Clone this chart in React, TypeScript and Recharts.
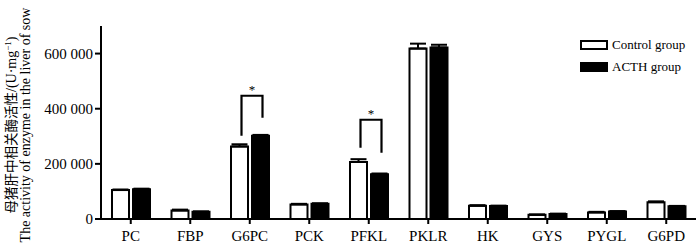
import React from 'react';
import {Bar, BarChart, ErrorBar, Rectangle, XAxis, YAxis} from 'recharts';

const categories = ['PC', 'FBP', 'G6PC', 'PCK', 'PFKL', 'PKLR', 'HK', 'GYS', 'PYGL', 'G6PD'];
const controlValues = [105000, 31000, 263000, 53000, 207000, 618000, 48000, 15000, 24000, 61000];
const acthValues = [108000, 26000, 302000, 55000, 162000, 622000, 47000, 18000, 27000, 46000];
const controlErr = [2000, 3000, 8000, 2000, 10000, 18000, 2000, 1500, 2000, 3000];
const acthErr = [2000, 1500, 3000, 2000, 3000, 10000, 1500, 1500, 1500, 1500];
const yTicks = [0, 200000, 400000, 600000];

// significance brackets: top of bracket, where each leg ends
const sigCategories = ['G6PC', 'PFKL'];
const sigTop = [447000, 360000];
const sigLeftEnd = [302000, 258000];
const sigRightEnd = [367000, 240000];

const SERIF = '"Liberation Serif", "Times New Roman", serif';
const BAR_GAP = 4;

const data = categories.map((name, i) => ({
  name,
  control: controlValues[i],
  acth: acthValues[i],
  controlErr: [0, controlErr[i]],
  acthErr: [0, acthErr[i]],
}));

const fmt = (v: number) => String(v).replace(/\B(?=(\d{3})+(?!\d))/g, ' ');

// ACTH bar plus the bracket over the pair when significant
const ActhShape = (props: any) => {
  const {x, y, width, height, payload} = props;
  const k = sigCategories.indexOf(payload.name);
  if (k < 0) return <Rectangle {...props} />;
  const bottom = y + height;
  const ppu = height / payload.acth;
  const py = (v: number) => bottom - v * ppu;
  const left = x - BAR_GAP - width / 2 + 2;
  const right = x + width / 2 + 2;
  const top = py(sigTop[k]);
  return (
    <g>
      <Rectangle {...props} />
      <path
        d={`M${left},${py(sigLeftEnd[k])}V${top}H${right}V${py(sigRightEnd[k])}`}
        fill="none"
        stroke="#000"
        strokeWidth={2.2}
      />
      <text
        x={(left + right) / 2}
        y={top - 2}
        textAnchor="middle"
        fontSize={13}
        fontFamily={SERIF}>
        *
      </text>
    </g>
  );
};

const YTitle = () => {
  const cy = 125;
  return (
    <g>
      <text
        x={16}
        y={cy}
        transform={`rotate(-90 16 ${cy})`}
        textAnchor="middle"
        fontSize={13.5}
        fontFamily={'"Noto Sans CJK SC", sans-serif'}>
        母猪肝中相关酶活性
        <tspan fontFamily={SERIF} fontSize={14}>
          /(U·mg
        </tspan>
        <tspan fontFamily={SERIF} fontSize={9} dy={-5}>
          −1
        </tspan>
        <tspan fontFamily={SERIF} fontSize={14} dy={5}>
          )
        </tspan>
      </text>
      <text
        x={30}
        y={cy}
        transform={`rotate(-90 30 ${cy})`}
        textAnchor="middle"
        fontSize={14}
        fontFamily={SERIF}>
        The activity of enzyme in the liver of sow
      </text>
    </g>
  );
};

const legendItems = [
  {label: 'Control group', fill: '#fff'},
  {label: 'ACTH group', fill: '#000'},
];

const LegendBox = () => (
  <div
    style={{
      position: 'absolute',
      left: 580,
      top: 34,
      fontFamily: SERIF,
      fontSize: 13,
      lineHeight: '22px',
    }}>
    {legendItems.map(item => (
      <div key={item.label} style={{display: 'flex', alignItems: 'center'}}>
        <span
          style={{
            display: 'inline-block',
            width: 24,
            height: 6,
            border: '2px solid #000',
            background: item.fill,
            marginRight: 4,
          }}
        />
        {item.label}
      </div>
    ))}
  </div>
);

export default function App() {
  return (
    <div style={{position: 'absolute', left: 0, top: 0, width: 700, height: 251, background: '#fff'}}>
      <BarChart
        width={700}
        height={251}
        data={data}
        margin={{top: 26, right: 4, bottom: 0, left: 0}}
        barSize={17}
        barGap={BAR_GAP}>
        <XAxis
          dataKey="name"
          height={32}
          axisLine={{stroke: '#000', strokeWidth: 2}}
          tickLine={{stroke: '#000', strokeWidth: 2}}
          tickSize={5}
          tickMargin={6}
          tick={{fill: '#000', fontSize: 15, fontFamily: SERIF}}
          interval={0}
        />
        <YAxis
          width={101}
          domain={[0, 700000]}
          ticks={yTicks}
          tickFormatter={fmt}
          axisLine={{stroke: '#000', strokeWidth: 2}}
          tickLine={{stroke: '#000', strokeWidth: 2}}
          tickSize={6}
          tickMargin={2}
          tick={{fill: '#000', fontSize: 15, fontFamily: SERIF}}
          label={{content: <YTitle />}}
        />
        <Bar
          dataKey="control"
          name="Control group"
          fill="#fff"
          stroke="#000"
          strokeWidth={2}
          isAnimationActive={false}>
          <ErrorBar dataKey="controlErr" width={8} stroke="#000" strokeWidth={2} />
        </Bar>
        <Bar
          dataKey="acth"
          name="ACTH group"
          fill="#000"
          stroke="#000"
          strokeWidth={2}
          shape={<ActhShape />}
          isAnimationActive={false}>
          <ErrorBar dataKey="acthErr" width={8} stroke="#000" strokeWidth={2} />
        </Bar>
      </BarChart>
      <LegendBox />
    </div>
  );
}
